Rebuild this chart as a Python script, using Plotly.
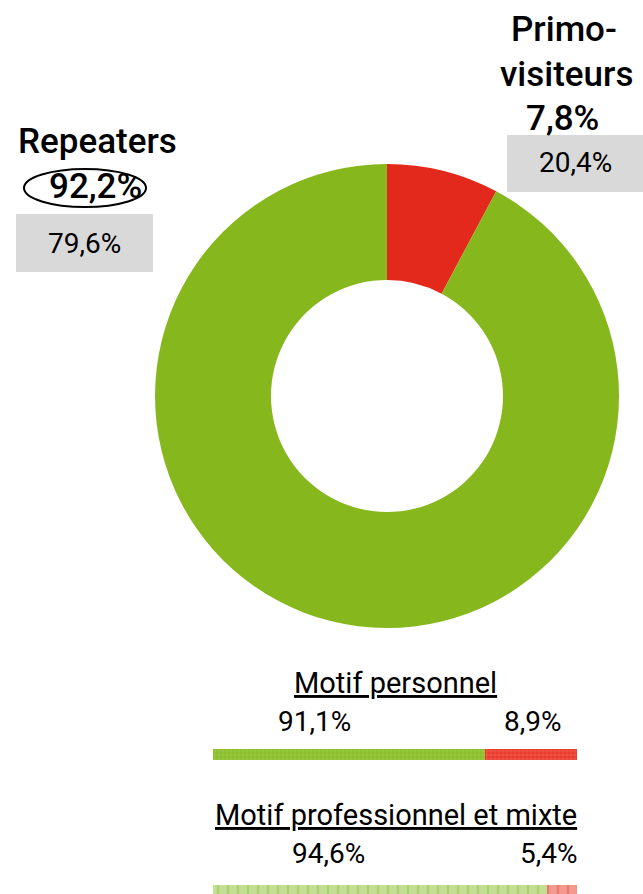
import plotly.graph_objects as go

# Donut data
pie_labels = ["Primo-visiteurs", "Repeaters"]
pie_values = [7.8, 92.2]
pie_colors = ["#e3291b", "#86b81d"]
pie_secondary = ["20,4%", "79,6%"]

# Bars (segment lengths as drawn in the picture) and their labels
bar_titles = ["Motif personnel", "Motif professionnel et mixte"]
bar_green = [74.7, 91.7]
bar_red = [25.3, 8.3]
bar_green_labels = ["91,1%", "94,6%"]
bar_red_labels = ["8,9%", "5,4%"]

W, H = 643, 894
FONT = "Roboto"

def px(x):
    return x / W

def py(y):
    return 1 - y / H

fig = go.Figure()

fig.add_trace(go.Pie(
    labels=pie_labels, values=pie_values, hole=0.5, sort=False,
    direction="clockwise", rotation=0, textinfo="none",
    marker=dict(colors=pie_colors, line=dict(width=0)),
    domain=dict(x=[px(155), px(619)], y=[py(628), py(164)]),
    showlegend=False, hoverinfo="label+percent",
))

bar_styles = [
    dict(g="#8cbd2c", gf="#b9dc78", r="#ea3a2c", rf="#f59a8c", shape="+", size=4),
    dict(g="#c4de95", gf="#98c44a", r="#f29a8f", rf="#e8564a", shape="|", size=10),
]
for i in range(2):
    st = bar_styles[i]
    xa = "x" if i == 0 else "x2"
    ya = "y" if i == 0 else "y2"
    fig.add_trace(go.Bar(
        x=[bar_green[i]], y=[0], orientation="h", xaxis=xa, yaxis=ya, width=1,
        marker=dict(color=st["g"], line=dict(width=0),
                    pattern=dict(shape=st["shape"], fgcolor=st["gf"], size=st["size"], solidity=0.25)),
        showlegend=False, name=bar_green_labels[i],
    ))
    fig.add_trace(go.Bar(
        x=[bar_red[i]], y=[0], orientation="h", xaxis=xa, yaxis=ya, width=1,
        marker=dict(color=st["r"], line=dict(width=0),
                    pattern=dict(shape=st["shape"], fgcolor=st["rf"], size=st["size"], solidity=0.25)),
        showlegend=False, name=bar_red_labels[i],
    ))

ax_common = dict(visible=False, fixedrange=True)
fig.update_layout(
    width=W, height=H, margin=dict(l=0, r=0, t=0, b=0),
    paper_bgcolor="white", plot_bgcolor="white", barmode="stack", bargap=0,
    xaxis=dict(domain=[px(213), px(577)], range=[0, 100], anchor="y", **ax_common),
    yaxis=dict(domain=[py(760), py(749)], range=[-0.5, 0.5], anchor="x", **ax_common),
    xaxis2=dict(domain=[px(213), px(577)], range=[0, 100], anchor="y2", **ax_common),
    yaxis2=dict(domain=[0, py(885)], range=[-0.5, 0.45], anchor="x2", **ax_common),
    font=dict(family=FONT, color="black"),
)

shapes = [
    dict(type="rect", xref="paper", yref="paper", x0=px(16), x1=px(153), y0=py(272), y1=py(214),
         fillcolor="#d9d9d9", line=dict(width=0), layer="below"),
    dict(type="rect", xref="paper", yref="paper", x0=px(507), x1=px(643), y0=py(192), y1=py(135),
         fillcolor="#d9d9d9", line=dict(width=0), layer="below"),
    dict(type="circle", xref="paper", yref="paper", x0=px(24), x1=px(146), y0=py(207), y1=py(169),
         line=dict(color="black", width=2), fillcolor="rgba(0,0,0,0)"),
]
fig.update_layout(shapes=shapes)

ann = []
def add(text, x, y, size, weight=400, under=False, xanchor="center"):
    f = dict(family=FONT, size=size, color="black", weight=weight)
    if under:
        f["lineposition"] = "under"
    ann.append(dict(text=text, x=px(x), y=py(y), xref="paper", yref="paper",
                    showarrow=False, xanchor=xanchor, yanchor="middle", font=f))

add(pie_labels[1], 97, 142, 35, 500)
add(f"{pie_values[1]:.1f}%".replace(".", ","), 95, 186, 35, 500)
add(pie_secondary[1], 84, 243, 28)
add("Primo-", 564, 30, 35, 500)
add("visiteurs", 566, 74, 35, 500)
add(f"{pie_values[0]:.1f}%".replace(".", ","), 562, 118, 35, 500)
add(pie_secondary[0], 575, 163, 28)

add(bar_titles[0], 396, 683, 29, under=True)
add(bar_green_labels[0], 314, 721, 28)
add(bar_red_labels[0], 533, 721, 28)
add(bar_titles[1], 396, 815, 29, under=True)
add(bar_green_labels[1], 328, 853, 28)
add(bar_red_labels[1], 549, 853, 28)
fig.update_layout(annotations=ann)

fig.write_html("out.html", config={"displayModeBar": False})

# remove default browser body margin so the figure fills the window exactly
with open("out.html", "r", encoding="utf-8") as fh:
    html = fh.read()
html = html.replace("<body>", '<body style="margin:0;padding:0;overflow:hidden">', 1)
with open("out.html", "w", encoding="utf-8") as fh:
    fh.write(html)
